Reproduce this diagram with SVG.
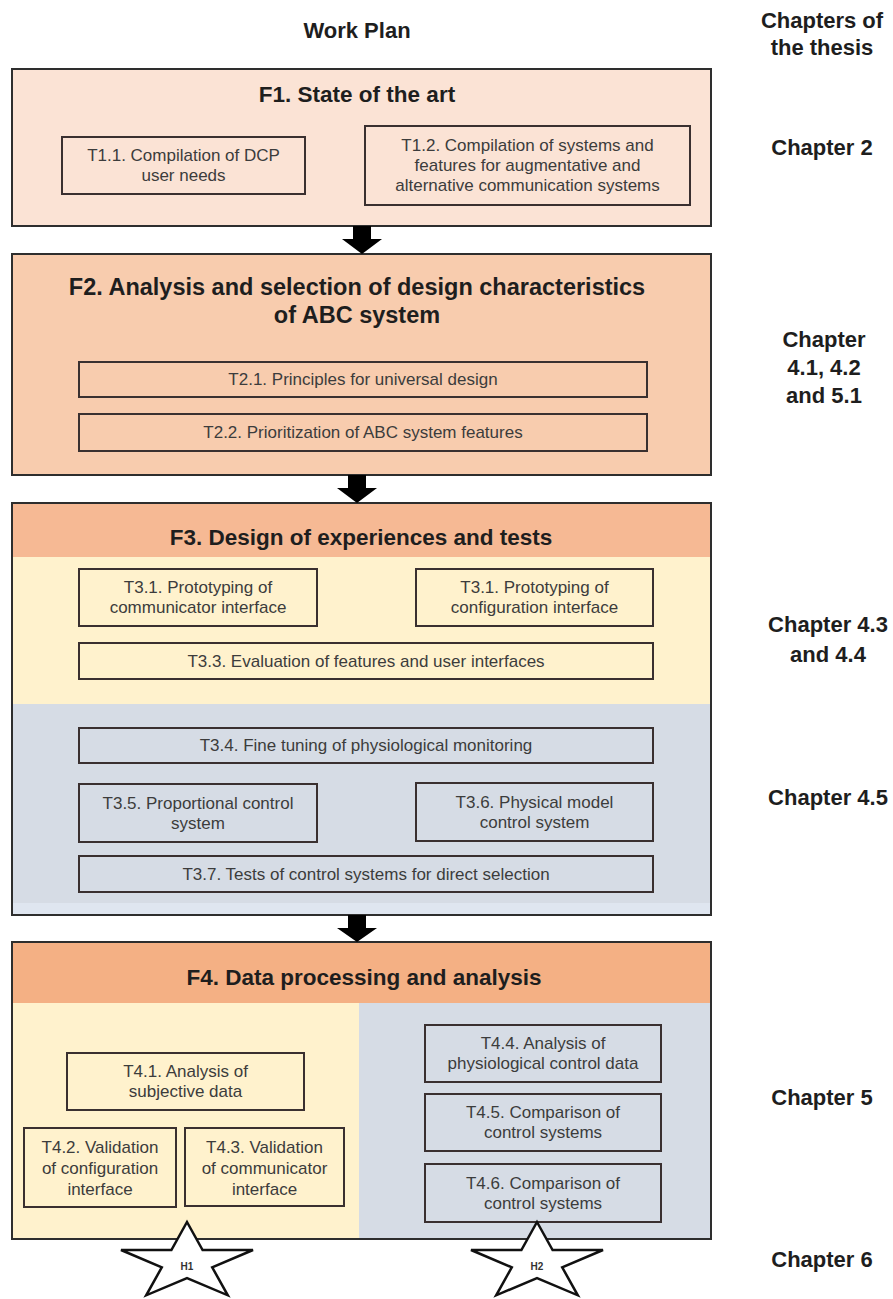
<svg xmlns="http://www.w3.org/2000/svg" width="893" height="1299" viewBox="0 0 893 1299">
  <style>
    .phase { stroke: #2e2e2e; stroke-width: 2; }
    .task { fill: none; stroke: #3a3030; stroke-width: 2; }
    .tt { font-family: "Liberation Sans", Arial, sans-serif; font-size: 17px; fill: #3c3c3c; text-anchor: middle; }
    .ph { font-family: "Liberation Sans", Arial, sans-serif; font-size: 22.5px; font-weight: bold; fill: #1e1e1e; text-anchor: middle; }
    .lbl { font-family: "Liberation Sans", Arial, sans-serif; font-size: 22px; font-weight: bold; fill: #1e1e1e; text-anchor: middle; }
    .star { fill: #ffffff; stroke: #111111; stroke-width: 2.5; stroke-linejoin: miter; }
    .hs { font-family: "Liberation Sans", Arial, sans-serif; font-size: 10px; font-weight: bold; fill: #333333; text-anchor: middle; }
    .arrow { fill: #000000; }
    .peach1 { fill: #fbe3d5; }
    .peach2 { fill: #f8ccae; }
    .orange3 { fill: #f6b994; }
    .orange4 { fill: #f4b084; }
    .yellow { fill: #fff2cd; }
    .blue { fill: #d6dce5; }
  </style>
  <defs>
    <polygon id="starShape" points="0,-40.5 15.6,-12.5 66,-12.5 25.2,4.8 40.8,32.8 0,15.5 -40.8,32.8 -25.2,4.8 -66,-12.5 -15.6,-12.5"/>
  </defs>

  <rect width="893" height="1299" fill="#ffffff"/>

  <!-- column headings -->
  <g id="headings">
    <text class="lbl" x="357" y="38">Work Plan</text>
    <text class="lbl" x="822" y="28">Chapters of</text>
    <text class="lbl" x="822" y="55">the thesis</text>
  </g>

  <!-- chapter labels -->
  <g id="chapters">
    <text class="lbl" x="822" y="155">Chapter 2</text>
    <text class="lbl" x="824" y="347">Chapter</text>
    <text class="lbl" x="824" y="375">4.1, 4.2</text>
    <text class="lbl" x="824" y="403">and 5.1</text>
    <text class="lbl" x="828" y="632">Chapter 4.3</text>
    <text class="lbl" x="828" y="662">and 4.4</text>
    <text class="lbl" x="828" y="805">Chapter 4.5</text>
    <text class="lbl" x="822" y="1105">Chapter 5</text>
    <text class="lbl" x="822" y="1267">Chapter 6</text>
  </g>

  <!-- F1 -->
  <g id="F1">
    <rect class="phase peach1" x="12" y="69" width="699" height="157"/>
    <text class="ph" x="357" y="102">F1. State of the art</text>
  </g>
  <g id="T1.1">
    <rect class="task" x="62" y="137" width="243" height="57"/>
    <text class="tt" x="183.5" y="161">T1.1. Compilation of DCP</text>
    <text class="tt" x="183.5" y="181">user needs</text>
  </g>
  <g id="T1.2">
    <rect class="task" x="365" y="126" width="325" height="79"/>
    <text class="tt" x="527.5" y="151">T1.2. Compilation of systems and</text>
    <text class="tt" x="527.5" y="171">features for augmentative and</text>
    <text class="tt" x="527.5" y="191">alternative communication systems</text>
  </g>

  <!-- F2 -->
  <g id="F2">
    <rect class="phase peach2" x="12" y="254" width="699" height="221"/>
    <text class="ph" x="357" y="295" style="font-size:23.5px">F2. Analysis and selection of design characteristics</text>
    <text class="ph" x="357" y="323" style="font-size:23.5px">of ABC system</text>
  </g>
  <g id="T2.1">
    <rect class="task" x="79" y="362" width="568" height="35"/>
    <text class="tt" x="363" y="385">T2.1. Principles for universal design</text>
  </g>
  <g id="T2.2">
    <rect class="task" x="79" y="414" width="568" height="37"/>
    <text class="tt" x="363" y="438">T2.2. Prioritization of ABC system features</text>
  </g>

  <!-- F3 -->
  <g id="F3">
    <rect class="yellow" x="12" y="503" width="699" height="412"/>
    <rect class="orange3" x="12" y="503" width="699" height="54"/>
    <rect class="blue" x="12" y="704" width="699" height="199"/>
    <rect fill="#dfe6f0" x="12" y="903" width="699" height="12"/>
    <rect class="phase" fill="none" x="12" y="503" width="699" height="412"/>
    <text class="ph" x="361" y="545">F3. Design of experiences and tests</text>
  </g>
  <g id="T3.1a">
    <rect class="task" x="79" y="569" width="238" height="57"/>
    <text class="tt" x="198" y="593">T3.1. Prototyping of</text>
    <text class="tt" x="198" y="613">communicator interface</text>
  </g>
  <g id="T3.1b">
    <rect class="task" x="416" y="569" width="237" height="57"/>
    <text class="tt" x="534.5" y="593">T3.1. Prototyping of</text>
    <text class="tt" x="534.5" y="613">configuration interface</text>
  </g>
  <g id="T3.3">
    <rect class="task" x="79" y="643" width="574" height="36"/>
    <text class="tt" x="366" y="667">T3.3. Evaluation of features and user interfaces</text>
  </g>
  <g id="T3.4">
    <rect class="task" x="79" y="728" width="574" height="35"/>
    <text class="tt" x="366" y="751">T3.4. Fine tuning of physiological monitoring</text>
  </g>
  <g id="T3.5">
    <rect class="task" x="79" y="784" width="238" height="58"/>
    <text class="tt" x="198" y="809">T3.5. Proportional control</text>
    <text class="tt" x="198" y="829">system</text>
  </g>
  <g id="T3.6">
    <rect class="task" x="416" y="783" width="237" height="58"/>
    <text class="tt" x="534.5" y="808">T3.6. Physical model</text>
    <text class="tt" x="534.5" y="828">control system</text>
  </g>
  <g id="T3.7">
    <rect class="task" x="79" y="856" width="574" height="36"/>
    <text class="tt" x="366" y="880">T3.7. Tests of control systems for direct selection</text>
  </g>

  <!-- F4 -->
  <g id="F4">
    <rect class="yellow" x="12" y="942" width="347" height="297"/>
    <rect class="blue" x="359" y="942" width="352" height="297"/>
    <rect class="orange4" x="12" y="942" width="699" height="61"/>
    <rect class="phase" fill="none" x="12" y="942" width="699" height="297"/>
    <text class="ph" x="364" y="985">F4. Data processing and analysis</text>
  </g>
  <g id="T4.1">
    <rect class="task" x="67" y="1053" width="237" height="57"/>
    <text class="tt" x="185.5" y="1077">T4.1. Analysis of</text>
    <text class="tt" x="185.5" y="1097">subjective data</text>
  </g>
  <g id="T4.2">
    <rect class="task" x="24" y="1128" width="152" height="79"/>
    <text class="tt" x="100" y="1153">T4.2. Validation</text>
    <text class="tt" x="100" y="1174">of configuration</text>
    <text class="tt" x="100" y="1195">interface</text>
  </g>
  <g id="T4.3">
    <rect class="task" x="185" y="1128" width="159" height="78"/>
    <text class="tt" x="264.5" y="1153">T4.3. Validation</text>
    <text class="tt" x="264.5" y="1174">of communicator</text>
    <text class="tt" x="264.5" y="1195">interface</text>
  </g>
  <g id="T4.4">
    <rect class="task" x="425" y="1025" width="236" height="57"/>
    <text class="tt" x="543" y="1049">T4.4. Analysis of</text>
    <text class="tt" x="543" y="1069">physiological control data</text>
  </g>
  <g id="T4.5">
    <rect class="task" x="425" y="1094" width="236" height="57"/>
    <text class="tt" x="543" y="1118">T4.5. Comparison of</text>
    <text class="tt" x="543" y="1138">control systems</text>
  </g>
  <g id="T4.6">
    <rect class="task" x="425" y="1164" width="236" height="58"/>
    <text class="tt" x="543" y="1189">T4.6. Comparison of</text>
    <text class="tt" x="543" y="1209">control systems</text>
  </g>

  <!-- hypotheses -->
  <g id="H1">
    <use href="#starShape" class="star" x="187" y="1262.5"/>
    <text class="hs" x="187" y="1270">H1</text>
  </g>
  <g id="H2">
    <use href="#starShape" class="star" x="537" y="1262.5"/>
    <text class="hs" x="537" y="1270">H2</text>
  </g>

  <!-- block arrows between phases -->
  <g id="connectors">
    <polygon class="arrow" points="353,226 371,226 371,239 382,239 362,254 342,239 353,239"/>
    <polygon class="arrow" points="348,475 366,475 366,488 377,488 357,503 337,488 348,488"/>
    <polygon class="arrow" points="348,915 366,915 366,928 377,928 357,942 337,928 348,928"/>
  </g>
</svg>
